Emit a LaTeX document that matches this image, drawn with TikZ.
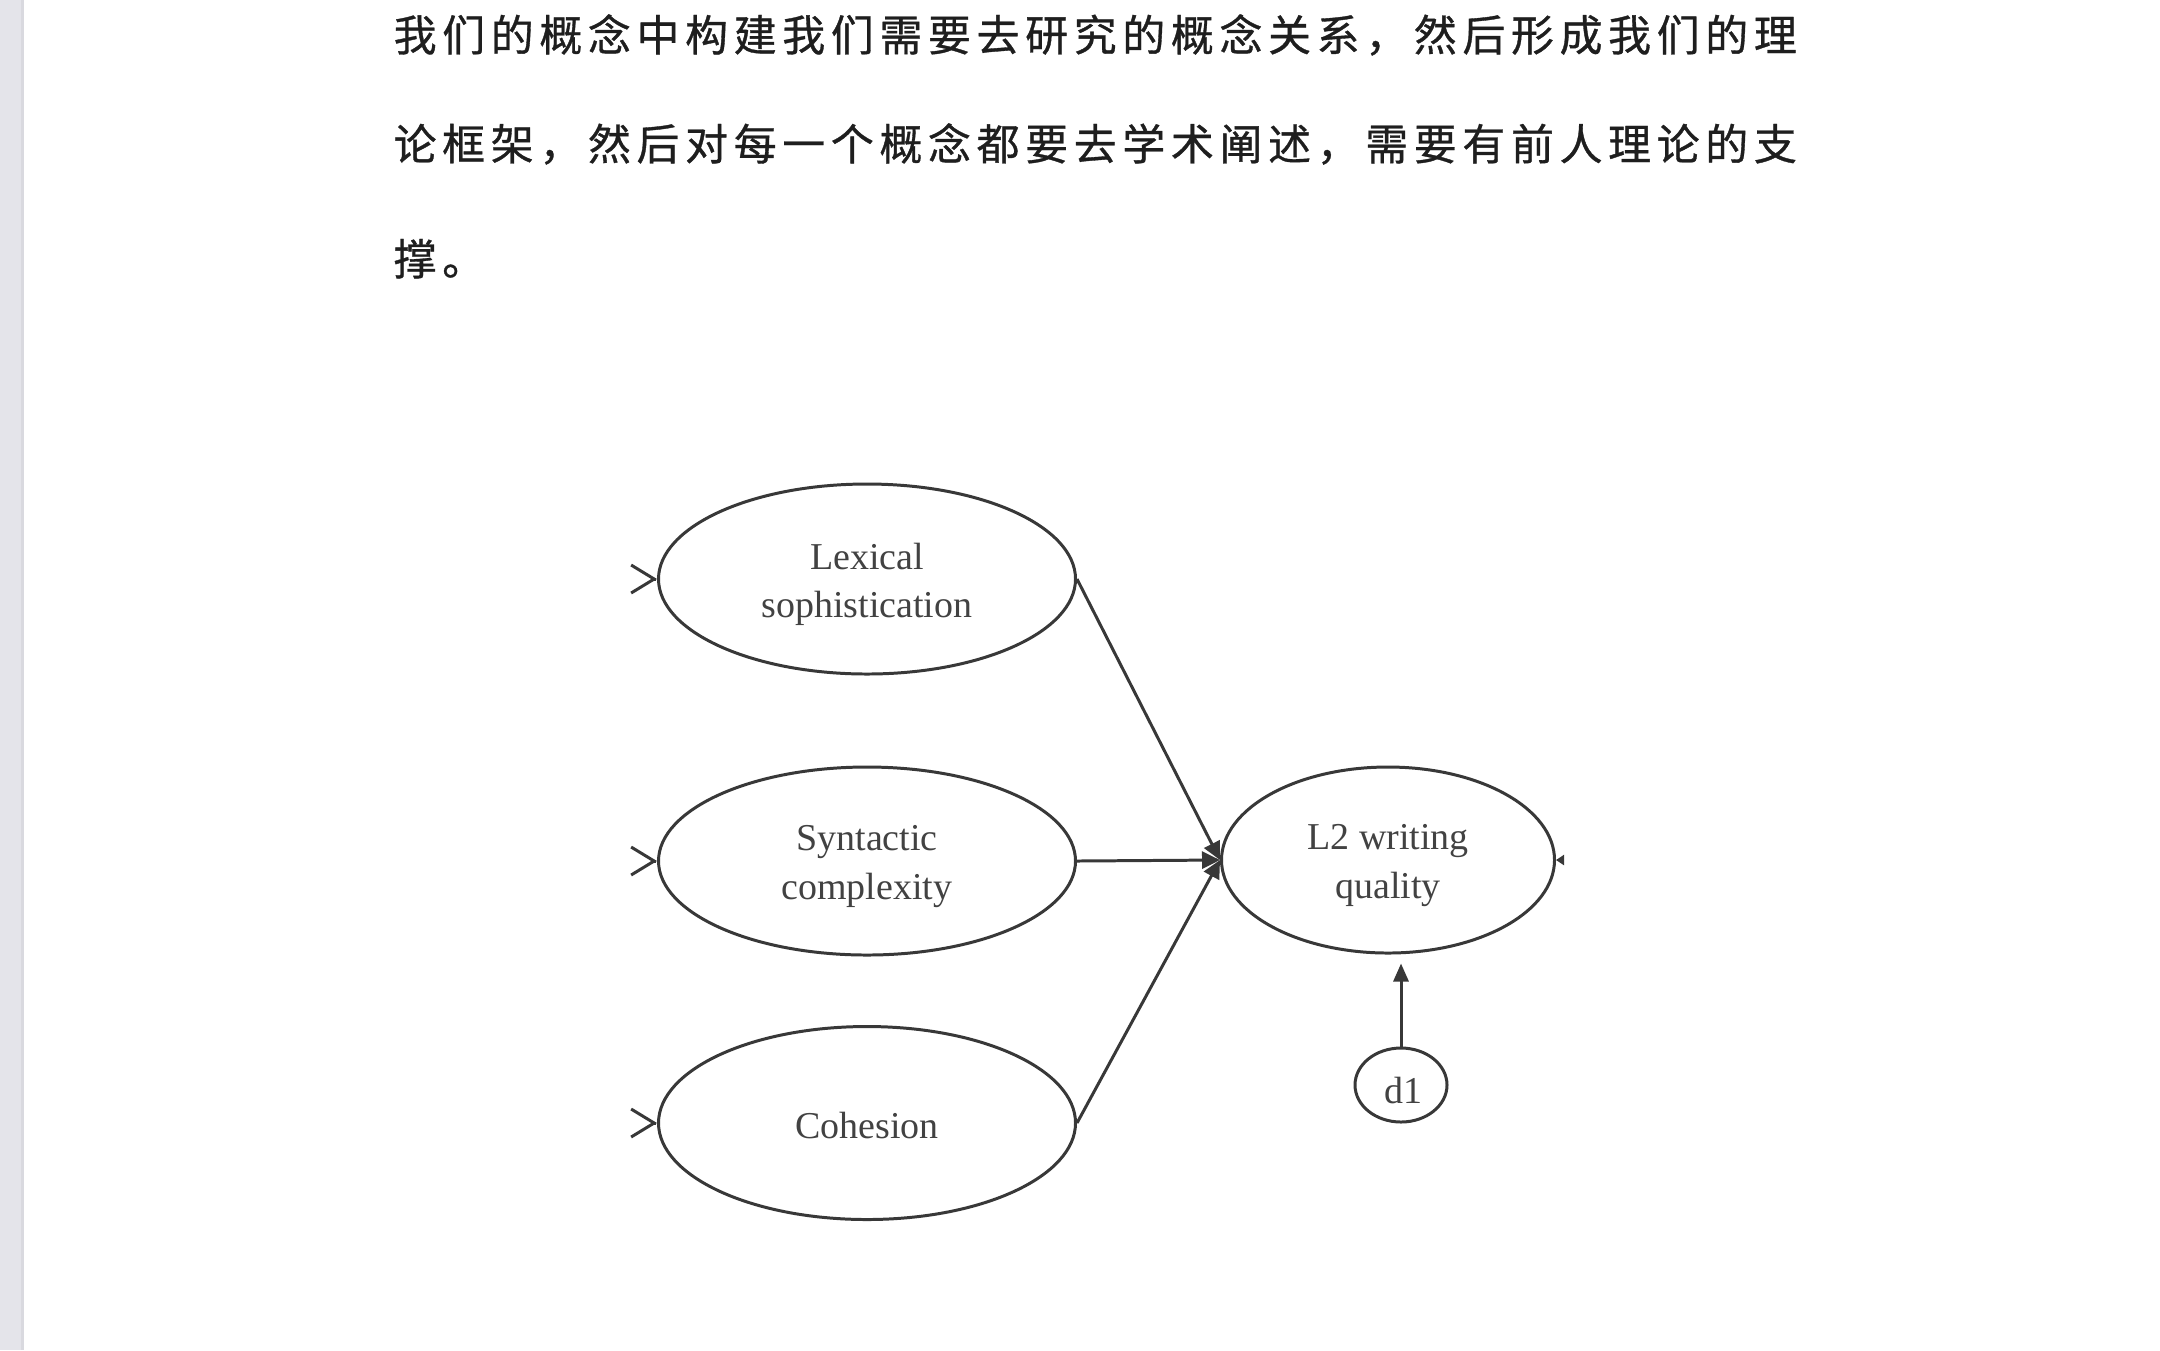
\documentclass[tikz,border=0pt]{standalone}
\usepackage{fontspec}
\setmainfont{Liberation Serif}
\newfontfamily\cjk[LetterSpace=13.3,FakeBold=0.8]{Noto Sans CJK SC}
\usetikzlibrary{arrows.meta,shapes.geometric,calc}
\definecolor{strip}{HTML}{E4E4EA}
\definecolor{stripedge}{HTML}{D9D9DF}
\definecolor{ink}{HTML}{383838}
\definecolor{txt}{HTML}{424242}
\definecolor{cjkink}{HTML}{1E1E1E}
\tikzset{
  latent/.style={ellipse, draw=ink, line width=0.85pt, inner sep=0pt},
  lbl/.style={align=center, inner sep=0pt, text=txt, font=\fontsize{10.8pt}{13.8pt}\selectfont, yshift=-0.055cm},
  cause/.style={draw=ink, line width=0.85pt, -{Triangle[length=0.18cm,width=0.17cm]}},
  barb/.style={draw=ink, line width=0.85pt, -{Straight Barb[length=0.23cm,width=0.28cm]}, shorten <=0.22cm},
  para/.style={anchor=base west, inner sep=0pt, text=cjkink, font=\cjk\fontsize{12.2pt}{14pt}\selectfont}
}
\begin{document}
\begin{tikzpicture}
\useasboundingbox (0,0) rectangle (21.6,-13.5);
\fill[white] (0,0) rectangle (21.6,-13.5);
\fill[strip] (0,0) rectangle (0.21,-13.5);
\fill[stripedge] (0.21,0) rectangle (0.24,-13.5);

\node[para] (p1) at (3.93,-0.51) {我们的概念中构建我们需要去研究的概念关系，然后形成我们的理};
\node[para] (p2) at (3.93,-1.60) {论框架，然后对每一个概念都要去学术阐述，需要有前人理论的支};
\node[para] (p3) at (3.93,-2.75) {撑。};

\node[latent, minimum width=4.17cm, minimum height=1.90cm,
  label={[lbl]center:Lexical\\sophistication}] (lex) at (8.67,-5.79) {};
\node[latent, minimum width=4.17cm, minimum height=1.88cm,
  label={[lbl]center:Syntactic\\complexity}] (syn) at (8.67,-8.61) {};
\node[latent, minimum width=4.17cm, minimum height=1.93cm,
  label={[lbl, yshift=0.03cm]center:Cohesion}] (coh) at (8.67,-11.23) {};
\node[latent, minimum width=3.33cm, minimum height=1.86cm,
  label={[lbl]center:L2 writing\\quality}] (l2) at (13.88,-8.60) {};
\node[latent, minimum width=0.92cm, minimum height=0.74cm,
  label={[lbl, xshift=0.02cm]center:d1}] (d1) at (14.01,-10.85) {};

\coordinate (lexin) at ($(lex.west)+(-0.23,0)$);
\coordinate (synin) at ($(syn.west)+(-0.23,0)$);
\coordinate (cohin) at ($(coh.west)+(-0.23,0)$);
\draw[barb] (lexin) -- (lex.west);
\draw[barb] (synin) -- (syn.west);
\draw[barb] (cohin) -- (coh.west);

\draw[cause] (lex.east) -- (l2.west);
\draw[cause] (syn.east) -- (l2.west);
\draw[cause] (coh.east) -- (l2.west);

\draw[cause, shorten >=0.09cm, -{Triangle[length=0.18cm,width=0.15cm]}] (d1.north) -- (d1.north |- l2.south);

\coordinate (l2out) at ($(l2.east)+(0.09,0)$);
\draw[draw=ink, line width=0.6pt, -{Triangle[length=0.08cm,width=0.1cm]}, shorten <=0.08cm] (l2out) -- (l2.east);
\end{tikzpicture}
\end{document}
